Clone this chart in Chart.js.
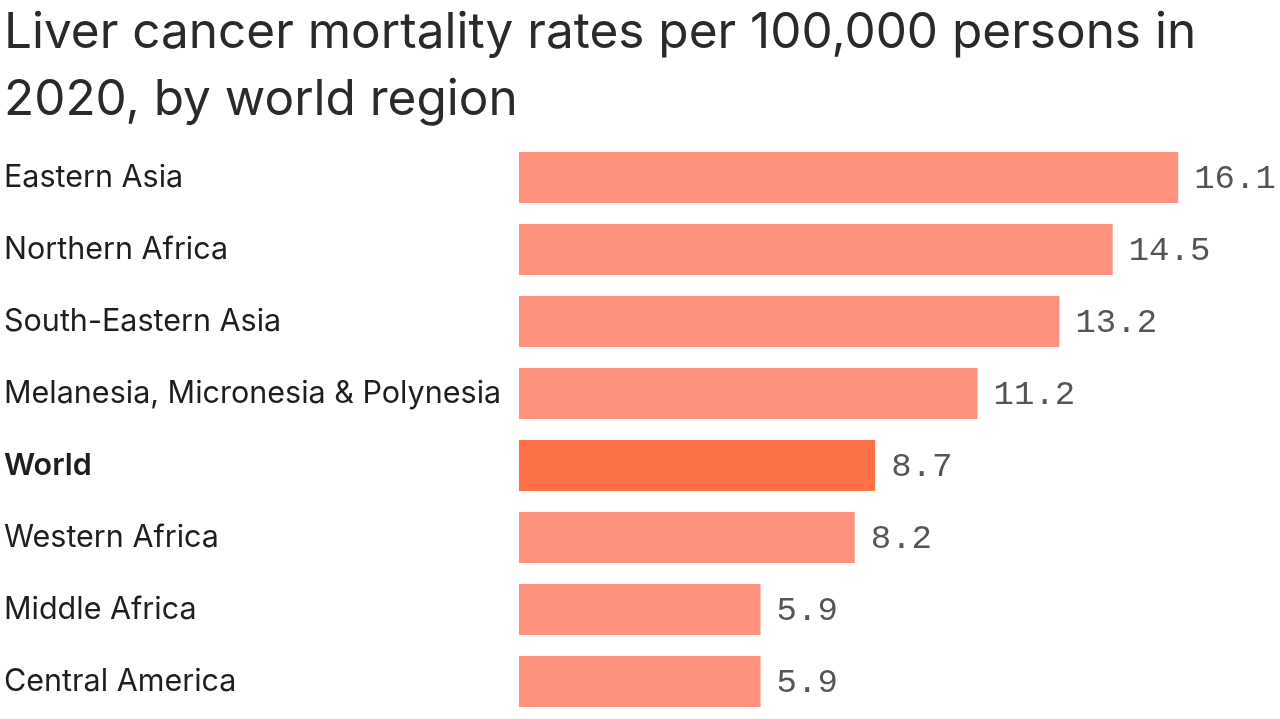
<!DOCTYPE html>
<html>
<head>
<meta charset="utf-8">
<script src="https://cdn.jsdelivr.net/npm/chart.js@4"></script>
<style>
  html, body { margin: 0; padding: 0; background: #fff; overflow: hidden; }
</style>
</head>
<body>
<canvas id="chart" width="1280" height="719"></canvas>
<script>
// Data
const regions = ['Eastern Asia', 'Northern Africa', 'South-Eastern Asia', 'Melanesia, Micronesia & Polynesia', 'World', 'Western Africa', 'Middle Africa', 'Central America'];
const rates = [16.1, 14.5, 13.2, 11.2, 8.7, 8.2, 5.9, 5.9];
const highlight = 'World';

const BAR = '#fe927f';
const BAR_HI = '#fd7149';

// Value labels right of each bar
const valueLabels = {
    id: 'valueLabels',
    afterDatasetsDraw(chart) {
        const ctx = chart.ctx;
        const meta = chart.getDatasetMeta(0);
        ctx.save();
        ctx.font = '34px "Liberation Mono", monospace';
        ctx.fillStyle = '#555';
        ctx.textAlign = 'left';
        ctx.textBaseline = 'middle';
        meta.data.forEach((bar, i) => {
            ctx.fillText(rates[i].toFixed(1), bar.x + 16, bar.y + 1);
        });
        ctx.restore();
    }
};

new Chart(document.getElementById('chart'), {
    type: 'bar',
    data: {
        labels: regions,
        datasets: [{
            data: rates,
            backgroundColor: regions.map(r => r === highlight ? BAR_HI : BAR),
            borderWidth: 0,
            categoryPercentage: 1,
            barPercentage: 0.71
        }]
    },
    options: {
        indexAxis: 'y',
        responsive: false,
        animation: false,
        layout: { padding: { left: 4, right: 24, top: 0, bottom: 1.5 } },
        plugins: {
            legend: { display: false },
            tooltip: { enabled: false },
            title: {
                display: true,
                text: ['Liver cancer mortality rates per 100,000 persons in', '2020, by world region'],
                align: 'start',
                color: '#2a2a2a',
                font: { family: 'Inter', size: 49.5, weight: 'normal', lineHeight: 1.354 },
                padding: { top: 0, bottom: 7.5 }
            }
        },
        scales: {
            x: {
                display: false,
                min: 0,
                max: 18
            },
            y: {
                border: { display: false },
                grid: { display: false, drawTicks: false },
                afterFit(scale) {
                    scale.width = 515;
                    scale.paddingTop = 0;
                    scale.paddingBottom = 0;
                },
                ticks: {
                    crossAlign: 'far',
                    padding: 0,
                    color: '#1e1e1e',
                    font: (c) => ({
                        family: 'Inter',
                        size: 30.5,
                        weight: c.tick && c.tick.label === highlight ? '600' : 'normal'
                    })
                }
            }
        }
    },
    plugins: [valueLabels]
});
</script>
</body>
</html>
